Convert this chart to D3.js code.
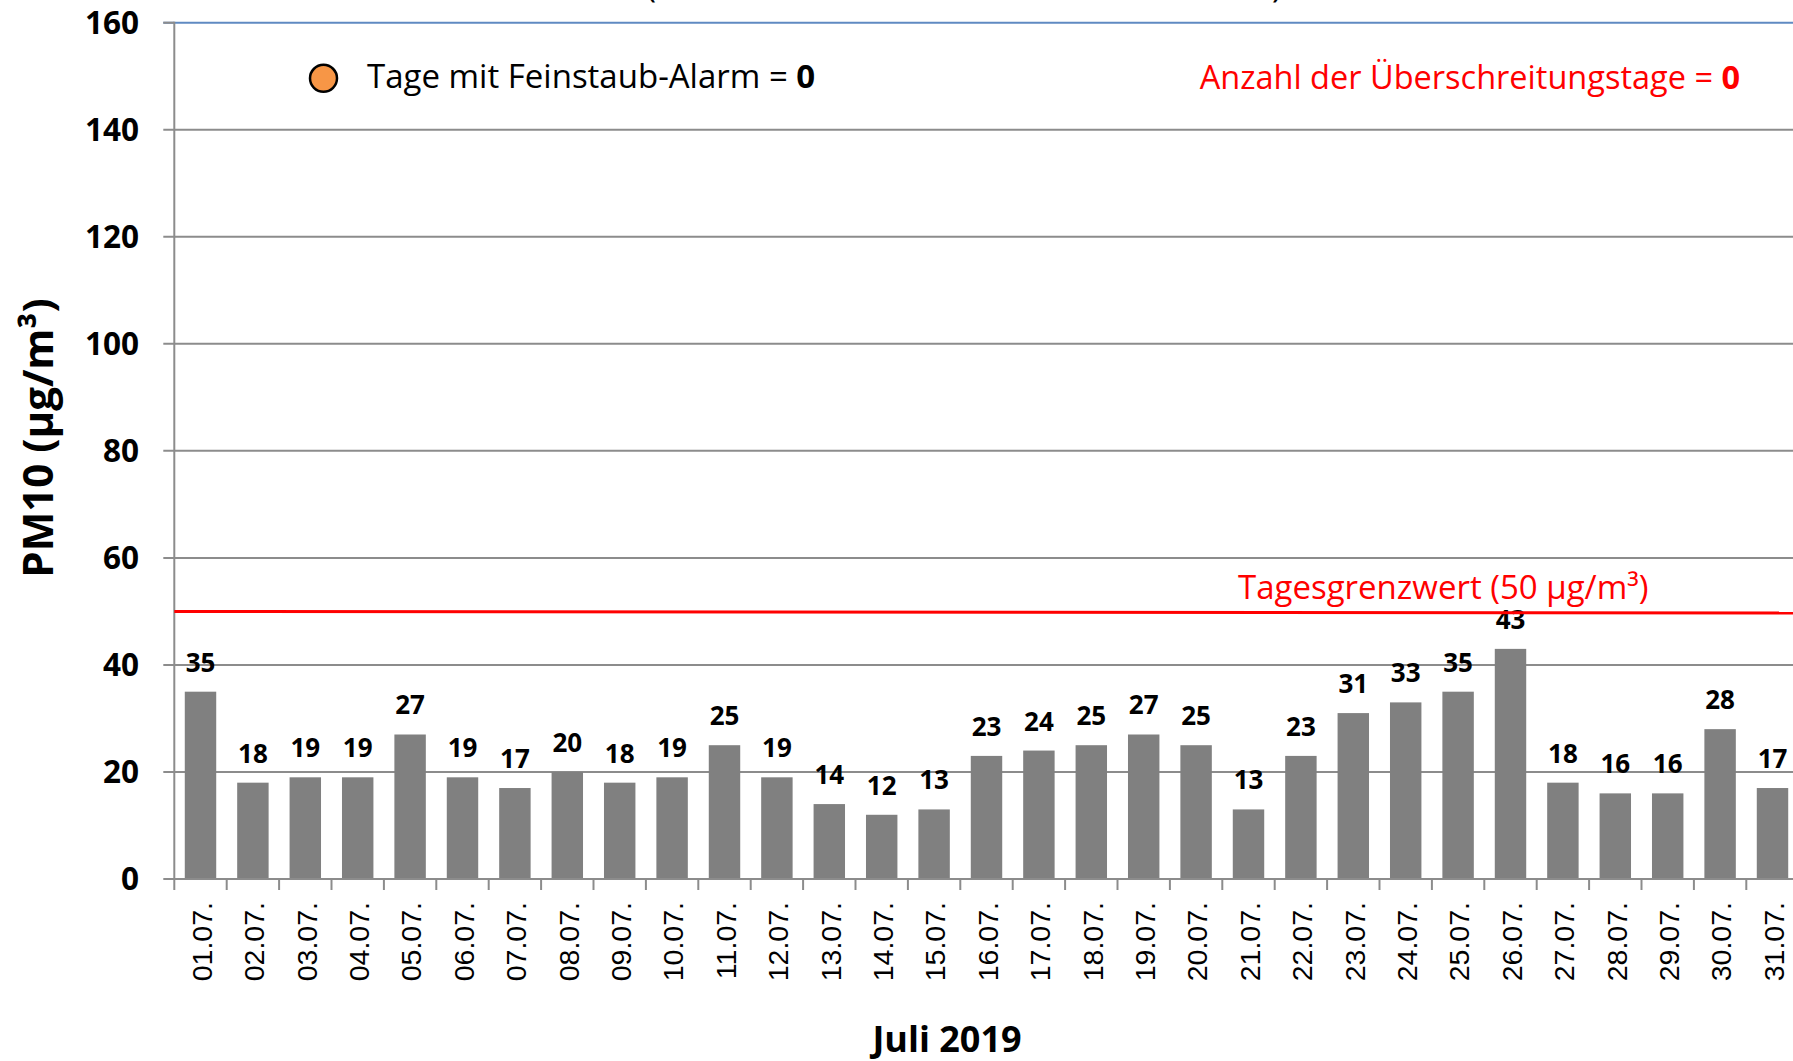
<!DOCTYPE html>
<html>
<head>
<meta charset="utf-8">
<script src="https://cdnjs.cloudflare.com/ajax/libs/d3/7.8.5/d3.min.js"></script>
<style>
  body { margin: 0; background: #fff; overflow: hidden; }
  svg { display: block; }
</style>
</head>
<body>
<div id="chart"></div>
<script>
// Tage im Juli 2019
var days = ["01.07.","02.07.","03.07.","04.07.","05.07.","06.07.","07.07.","08.07.","09.07.","10.07.",
            "11.07.","12.07.","13.07.","14.07.","15.07.","16.07.","17.07.","18.07.","19.07.","20.07.",
            "21.07.","22.07.","23.07.","24.07.","25.07.","26.07.","27.07.","28.07.","29.07.","30.07.","31.07."];
// PM10 Tagesmittelwerte (µg/m³)
var pm10 = [35,18,19,19,27,19,17,20,18,19,25,19,14,12,13,23,24,25,27,25,13,23,31,33,35,43,18,16,16,28,17];
var yTicks = [0,20,40,60,80,100,120,140,160];
var limitValue = 50;
var alarmDays = 0;
var exceedDays = 0;

var W = 1793, H = 1061;
var plotLeft = 174.3, plotRight = 1798.7, plotTop = 22.7, plotBottom = 879;

var svg = d3.select("#chart").append("svg")
  .attr("width", W)
  .attr("height", H)
  .style("background", "#fff");

var x = d3.scaleBand()
  .domain(days)
  .range([plotLeft, plotRight])
  .paddingInner(0.4)
  .paddingOuter(0.2);

var y = d3.scaleLinear()
  .domain([0, 160])
  .range([plotBottom, plotTop]);

var gap = (x.step() - x.bandwidth()) / 2;

// gridlines
svg.append("g").selectAll("line")
  .data(yTicks.filter(function(d) { return d > 0; }))
  .enter().append("line")
  .attr("x1", plotLeft - 11)
  .attr("x2", W)
  .attr("y1", function(d) { return y(d); })
  .attr("y2", function(d) { return y(d); })
  .attr("stroke", function(d) { return d === 160 ? "#5f8ac2" : "#8c8c8c"; })
  .attr("stroke-width", 2);

// short grey tick for 160 over the blue line
svg.append("line")
  .attr("x1", plotLeft - 11).attr("x2", plotLeft)
  .attr("y1", y(160)).attr("y2", y(160))
  .attr("stroke", "#8c8c8c").attr("stroke-width", 2);

// bars
svg.append("g").selectAll("rect")
  .data(pm10)
  .enter().append("rect")
  .attr("x", function(d, i) { return x(days[i]); })
  .attr("y", function(d) { return y(d); })
  .attr("width", x.bandwidth())
  .attr("height", function(d) { return y(0) - y(d); })
  .attr("fill", "#808080");

// value labels
svg.append("g").selectAll("text")
  .data(pm10)
  .enter().append("text")
  .attr("x", function(d, i) { return x(days[i]) + x.bandwidth() / 2; })
  .attr("y", function(d) { return y(d) - 20; })
  .attr("text-anchor", "middle")
  .style("font-family", "'Open Sans', sans-serif")
  .style("font-weight", "bold")
  .style("font-size", "26px")
  .text(function(d) { return d; });

// axes lines
svg.append("line")
  .attr("x1", plotLeft).attr("x2", plotLeft)
  .attr("y1", plotTop - 1).attr("y2", plotBottom)
  .attr("stroke", "#8c8c8c").attr("stroke-width", 2);
svg.append("line")
  .attr("x1", plotLeft - 11).attr("x2", W)
  .attr("y1", plotBottom).attr("y2", plotBottom)
  .attr("stroke", "#8c8c8c").attr("stroke-width", 2);

// x ticks at band boundaries
svg.append("g").selectAll("line")
  .data(days)
  .enter().append("line")
  .attr("x1", function(d) { return x(d) - gap; })
  .attr("x2", function(d) { return x(d) - gap; })
  .attr("y1", plotBottom)
  .attr("y2", plotBottom + 11)
  .attr("stroke", "#8c8c8c").attr("stroke-width", 2);

// y tick labels
svg.append("g").selectAll("text")
  .data(yTicks)
  .enter().append("text")
  .attr("x", 139)
  .attr("y", function(d) { return y(d); })
  .attr("dy", "0.36em")
  .attr("text-anchor", "end")
  .style("font-family", "'Open Sans', sans-serif")
  .style("font-weight", "bold")
  .style("font-size", "31.5px")
  .text(function(d) { return d; });

// x tick labels
svg.append("g").selectAll("text")
  .data(days)
  .enter().append("text")
  .attr("transform", function(d) { return "translate(" + (x(d) + x.bandwidth() / 2 + 1) + "," + 902 + ") rotate(-90)"; })
  .attr("dy", "0.36em")
  .attr("text-anchor", "end")
  .style("font-family", "'Liberation Sans', Arial, sans-serif")
  .style("font-size", "28.5px")
  .text(function(d) { return d; });

// limit line
svg.append("line")
  .attr("x1", plotLeft).attr("x2", W)
  .attr("y1", y(limitValue)).attr("y2", y(limitValue) + 1.5)
  .attr("stroke", "#ff0000").attr("stroke-width", 3);

svg.append("text")
  .attr("x", 1238).attr("y", 599)
  .attr("fill", "#ff0000")
  .style("font-family", "'Open Sans', sans-serif")
  .style("font-size", "33px")
  .text("Tagesgrenzwert (" + limitValue + " µg/m³)");

// legend
svg.append("circle")
  .attr("cx", 323.5).attr("cy", 78.3).attr("r", 13.5)
  .attr("fill", "#f79646").attr("stroke", "#000").attr("stroke-width", 2.5);

var leg = svg.append("text")
  .attr("x", 367).attr("y", 88)
  .style("font-family", "'Open Sans', sans-serif")
  .style("font-size", "33px");
leg.append("tspan").text("Tage mit Feinstaub-Alarm = ");
leg.append("tspan").style("font-weight", "bold").text(alarmDays);

var ex = svg.append("text")
  .attr("x", 1740).attr("y", 89)
  .attr("text-anchor", "end")
  .attr("fill", "#ff0000")
  .style("font-family", "'Open Sans', sans-serif")
  .style("font-size", "32.5px");
ex.append("tspan").text("Anzahl der Überschreitungstage = ");
ex.append("tspan").style("font-weight", "bold").text(exceedDays);

// title parentheses, cut off at the top edge
svg.append("text").attr("x", 646).attr("y", -3)
  .style("font-family", "'Open Sans', sans-serif").style("font-size", "34px").text("(");
svg.append("text").attr("x", 1272).attr("y", -3)
  .style("font-family", "'Open Sans', sans-serif").style("font-size", "34px").text(")");

// axis titles
svg.append("text")
  .attr("transform", "translate(53,438) rotate(-90)")
  .attr("text-anchor", "middle")
  .style("font-family", "'Open Sans', sans-serif")
  .style("font-weight", "bold")
  .style("font-size", "42px")
  .text("PM10 (µg/m³)");

svg.append("text")
  .attr("x", 947).attr("y", 1052)
  .attr("text-anchor", "middle")
  .style("font-family", "'Open Sans', sans-serif")
  .style("font-weight", "bold")
  .style("font-size", "36px")
  .text("Juli 2019");
</script>
</body>
</html>
